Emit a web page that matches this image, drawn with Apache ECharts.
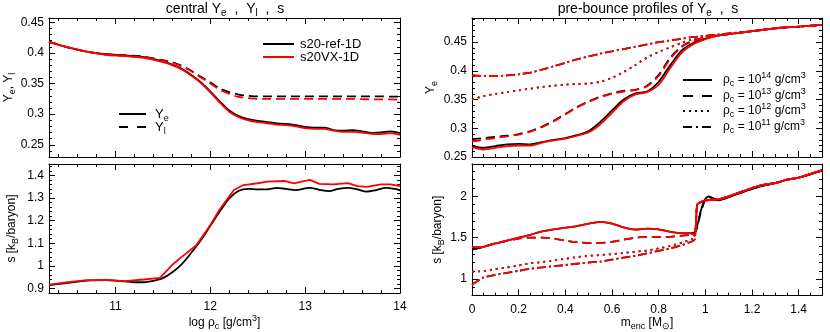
<!DOCTYPE html>
<html>
<head>
<meta charset="utf-8">
<script src="https://cdn.jsdelivr.net/npm/echarts@6/dist/echarts.min.js"></script>
<style>
html, body { margin: 0; padding: 0; background: #fff; }
#chart { width: 830px; height: 332px; }
</style>
</head>
<body>
<div id="chart"></div>
<script>
// ---- central values vs log rho_c (left panels) ----
var rhoYe = [10.3, 10.5, 10.7, 10.9, 11.1, 11.3, 11.5, 11.6, 11.7, 11.8, 11.9, 12.0, 12.1, 12.2, 12.3, 12.4,
  12.5, 12.6, 12.7, 12.8, 12.9, 13.0, 13.1, 13.2, 13.3, 13.4, 13.5, 13.6, 13.7, 13.8, 13.9, 14.0];
var yeRef = [0.418, 0.409, 0.402, 0.398, 0.396, 0.393, 0.386, 0.381, 0.374, 0.364, 0.352, 0.337, 0.321, 0.306, 0.297, 0.292,
  0.289, 0.287, 0.285, 0.284, 0.282, 0.279, 0.278, 0.278, 0.274, 0.273, 0.274, 0.272, 0.2695, 0.270, 0.272, 0.269];
var yeVX = [0.418, 0.409, 0.402, 0.397, 0.395, 0.392, 0.385, 0.380, 0.373, 0.363, 0.351, 0.336, 0.319, 0.304, 0.295, 0.290,
  0.287, 0.285, 0.283, 0.282, 0.280, 0.277, 0.276, 0.276, 0.273, 0.271, 0.271, 0.270, 0.268, 0.2675, 0.269, 0.266];
var ylRef = [0.418, 0.409, 0.402, 0.398, 0.396, 0.394, 0.388, 0.385, 0.379, 0.371, 0.361, 0.352, 0.342, 0.336, 0.332, 0.330,
  0.329, 0.329, 0.329, 0.329, 0.329, 0.329, 0.329, 0.329, 0.329, 0.329, 0.329, 0.329, 0.329, 0.329, 0.3285, 0.3285];
var ylVX = [0.418, 0.409, 0.402, 0.397, 0.395, 0.393, 0.387, 0.384, 0.378, 0.370, 0.360, 0.350, 0.340, 0.333, 0.328, 0.326,
  0.325, 0.325, 0.325, 0.325, 0.325, 0.325, 0.325, 0.325, 0.325, 0.325, 0.325, 0.3245, 0.324, 0.324, 0.324, 0.3235];

var rhoSRef = [10.3, 10.5, 10.7, 10.9, 11.1, 11.2, 11.3, 11.4, 11.5, 11.6, 11.7, 11.8, 11.9, 12.0, 12.1, 12.2, 12.3, 12.4,
  12.5, 12.6, 12.7, 12.8, 12.9, 13.0, 13.05, 13.15, 13.25, 13.35, 13.45, 13.55, 13.65, 13.75, 13.85, 13.95, 14.0];
var sRef = [0.915, 0.925, 0.935, 0.937, 0.932, 0.928, 0.928, 0.934, 0.946, 0.972, 1.008, 1.058, 1.113, 1.177, 1.24, 1.298, 1.332, 1.34,
  1.338, 1.338, 1.345, 1.34, 1.335, 1.342, 1.345, 1.336, 1.33, 1.34, 1.345, 1.338, 1.328, 1.335, 1.345, 1.34, 1.334];
var rhoSVX = [10.3, 10.5, 10.7, 10.9, 11.1, 11.3, 11.47, 11.6, 11.7, 11.85, 12.0, 12.1, 12.25, 12.35, 12.5, 12.6, 12.78,
  12.88, 13.05, 13.15, 13.3, 13.45, 13.55, 13.65, 13.8, 13.9, 14.0];
var sVX = [0.917, 0.928, 0.937, 0.937, 0.933, 0.94, 0.947, 1.005, 1.04, 1.09, 1.18, 1.25, 1.335, 1.357, 1.365, 1.372, 1.375,
  1.364, 1.38, 1.362, 1.36, 1.366, 1.352, 1.349, 1.36, 1.36, 1.352];

// ---- pre-bounce profiles vs m_enc (right panels) ----
var mYe = [0, 0.05, 0.1, 0.15, 0.2, 0.25, 0.3, 0.35, 0.4, 0.45, 0.5, 0.55, 0.6, 0.65, 0.7, 0.75, 0.8, 0.85, 0.9, 0.95, 1.0,
  1.05, 1.1, 1.2, 1.3, 1.4, 1.5];
var ye14Ref = [0.270, 0.266, 0.269, 0.272, 0.273, 0.272, 0.276, 0.280, 0.283, 0.288, 0.295, 0.311, 0.331, 0.350, 0.361, 0.364,
  0.381, 0.410, 0.436, 0.449, 0.456, 0.461, 0.464, 0.469, 0.474, 0.477, 0.480];
var ye14VX = [0.267, 0.263, 0.266, 0.269, 0.270, 0.270, 0.275, 0.279, 0.282, 0.287, 0.293, 0.307, 0.327, 0.347, 0.359, 0.363,
  0.376, 0.405, 0.432, 0.447, 0.455, 0.461, 0.464, 0.469, 0.474, 0.477, 0.480];
var ye13Ref = [0.281, 0.283, 0.285, 0.287, 0.290, 0.295, 0.303, 0.313, 0.325, 0.337, 0.347, 0.355, 0.361, 0.365, 0.367, 0.374,
  0.393, 0.423, 0.443, 0.453, 0.458, 0.462, 0.464, 0.469, 0.474, 0.477, 0.480];
var ye13VX = [0.277, 0.280, 0.283, 0.286, 0.289, 0.294, 0.302, 0.312, 0.324, 0.336, 0.346, 0.354, 0.360, 0.364, 0.367, 0.373,
  0.391, 0.421, 0.442, 0.452, 0.458, 0.462, 0.464, 0.469, 0.474, 0.477, 0.480];
var ye12 = [0.350, 0.356, 0.360, 0.363, 0.366, 0.369, 0.372, 0.374, 0.376, 0.377, 0.378, 0.381, 0.388, 0.398, 0.410, 0.423,
  0.433, 0.441, 0.449, 0.455, 0.459, 0.462, 0.464, 0.469, 0.474, 0.477, 0.480];
var ye11 = [0.392, 0.391, 0.391, 0.392, 0.394, 0.397, 0.402, 0.408, 0.414, 0.420, 0.425, 0.430, 0.434, 0.438, 0.442, 0.446,
  0.450, 0.453, 0.456, 0.459, 0.461, 0.463, 0.465, 0.469, 0.474, 0.477, 0.480];

var mS = [0, 0.05, 0.1, 0.15, 0.2, 0.25, 0.3, 0.35, 0.4, 0.45, 0.5, 0.55, 0.6, 0.65, 0.7, 0.75, 0.8, 0.85, 0.9, 0.94,
  0.955, 0.965, 0.98, 1.0, 1.015, 1.04, 1.06, 1.1, 1.15, 1.2, 1.25, 1.3, 1.35, 1.4, 1.45, 1.5];
var s14Ref = [1.355, 1.39, 1.43, 1.465, 1.50, 1.535, 1.575, 1.60, 1.62, 1.64, 1.67, 1.69, 1.67, 1.625, 1.598, 1.61, 1.60, 1.57,
  1.555, 1.555, 1.57, 1.64, 1.82, 1.97, 2.0, 1.97, 1.95, 1.99, 2.04, 2.09, 2.13, 2.16, 2.2, 2.225, 2.265, 2.31];
var s14VX = [1.385, 1.39, 1.43, 1.465, 1.50, 1.535, 1.575, 1.60, 1.62, 1.64, 1.67, 1.69, 1.67, 1.625, 1.598, 1.61, 1.60, 1.57,
  1.555, 1.55, 1.52, 1.90, 1.93, 1.95, 1.955, 1.96, 1.965, 2.0, 2.05, 2.10, 2.14, 2.16, 2.2, 2.225, 2.27, 2.315];
var s13Ref = [1.355, 1.39, 1.43, 1.46, 1.49, 1.50, 1.50, 1.49, 1.465, 1.445, 1.435, 1.435, 1.45, 1.475, 1.50, 1.51, 1.51, 1.51,
  1.525, 1.535, 1.55, 1.62, 1.80, 1.96, 1.99, 1.96, 1.95, 1.99, 2.04, 2.09, 2.13, 2.16, 2.2, 2.225, 2.265, 2.31];
var s13VX = [1.385, 1.39, 1.43, 1.46, 1.49, 1.50, 1.50, 1.49, 1.465, 1.445, 1.435, 1.435, 1.45, 1.475, 1.50, 1.51, 1.51, 1.51,
  1.525, 1.535, 1.52, 1.90, 1.93, 1.95, 1.955, 1.96, 1.965, 2.0, 2.05, 2.10, 2.14, 2.16, 2.2, 2.225, 2.27, 2.315];
var s12 = [1.09, 1.095, 1.12, 1.14, 1.165, 1.19, 1.205, 1.225, 1.245, 1.265, 1.28, 1.29, 1.30, 1.315, 1.33, 1.345, 1.37, 1.40,
  1.44, 1.48, 1.50, 1.90, 1.93, 1.95, 1.955, 1.96, 1.965, 2.0, 2.05, 2.10, 2.14, 2.16, 2.2, 2.225, 2.27, 2.315];
var s11 = [0.93, 1.02, 1.05, 1.075, 1.10, 1.125, 1.14, 1.155, 1.17, 1.185, 1.20, 1.21, 1.235, 1.26, 1.28, 1.31, 1.34, 1.37,
  1.41, 1.45, 1.48, 1.90, 1.93, 1.95, 1.955, 1.96, 1.965, 2.0, 2.05, 2.10, 2.14, 2.16, 2.2, 2.225, 2.27, 2.315];

// ---- tick labels ----
var rhoTicks = [11, 12, 13, 14];
var yeTicks = [0.25, 0.3, 0.35, 0.4, 0.45];
var sTicksL = [0.9, 1, 1.1, 1.2, 1.3, 1.4];
var mTicks = [0, 0.2, 0.4, 0.6, 0.8, 1, 1.2, 1.4];
var sTicksR = [1, 1.5, 2];

var FONT = '"Liberation Sans", Arial, Helvetica, sans-serif';
var BLACK = '#000000', RED = '#ff0000';
var DASH = [9, 5], DOT = [2, 4], DASHDOT = [9, 3, 2, 3];

function steps(a, b, d) {
  var out = [];
  for (var v = a; v <= b + 1e-9; v += d) out.push(Math.round(v * 1000) / 1000);
  return out;
}

function rich(fs) {
  var small = Math.round(fs * 0.72);
  return {
    n: { fontSize: fs, fontFamily: FONT, color: '#000', lineHeight: fs + 5 },
    s: { fontSize: small, fontFamily: FONT, color: '#000', lineHeight: small, verticalAlign: 'bottom' },
    p: { fontSize: small, fontFamily: FONT, color: '#000', lineHeight: small, verticalAlign: 'top' }
  };
}

var xAxes = [], yAxes = [];
// main axis (labels + major ticks), its mirror, and minor ticks on both sides
function addAxes(list, dim, grid, min, max, majors, minors, labels, name, gap) {
  var lo = dim === 'x' ? 'bottom' : 'left', hi = dim === 'x' ? 'top' : 'right';
  var idx = list.length;
  function ax(pos, ticks, len, showLine, withLabels) {
    var a = {
      type: 'value', gridIndex: grid, position: pos, min: min, max: max,
      splitLine: { show: false },
      axisLine: { show: showLine, onZero: false, lineStyle: { color: '#000', width: 1 } },
      axisTick: { show: true, inside: true, length: len, customValues: ticks, lineStyle: { color: '#000', width: 1 } },
      axisLabel: { show: false }
    };
    if (withLabels) {
      a.axisLabel = { show: labels, customValues: majors, color: '#000', fontFamily: FONT, fontSize: 12,
        margin: dim === 'x' ? 8 : 5 };
      if (name) {
        a.name = name;
        a.nameLocation = 'middle';
        a.nameGap = gap;
        a.nameTextStyle = { rich: rich(12) };
      }
    }
    return a;
  }
  list.push(ax(lo, majors, 6, true, true));
  list.push(ax(hi, majors, 6, true, false));
  list.push(ax(lo, minors, 3, false, false));
  list.push(ax(hi, minors, 3, false, false));
  return idx;
}

var gx0 = addAxes(xAxes, 'x', 0, 10.3, 14, rhoTicks, steps(10.4, 14, 0.2), false, null, 0);
var gy0 = addAxes(yAxes, 'y', 0, 0.23, 0.457, yeTicks, steps(0.23, 0.45, 0.01), true, '{n|Y}{s|e}{n|, Y}{s|l}', 32);
var gx1 = addAxes(xAxes, 'x', 1, 10.3, 14, rhoTicks, steps(10.4, 14, 0.2), true, '{n|log ρ}{s|c}{n| [g/cm}{p|3}{n|]}', 17);
var gy1 = addAxes(yAxes, 'y', 1, 0.88, 1.45, sTicksL, steps(0.9, 1.44, 0.02), true, '{n|s [k}{s|B}{n|/baryon]}', 29);
var gx2 = addAxes(xAxes, 'x', 2, 0, 1.5, mTicks, steps(0, 1.5, 0.05), false, null, 0);
var gy2 = addAxes(yAxes, 'y', 2, 0.25, 0.492, yeTicks, steps(0.25, 0.49, 0.01), true, '{n|Y}{s|e}', 33);
var gx3 = addAxes(xAxes, 'x', 3, 0, 1.5, mTicks, steps(0, 1.5, 0.05), true, '{n|m}{s|enc}{n| [M}{s|⊙}{n|]}', 17);
var gy3 = addAxes(yAxes, 'y', 3, 0.8, 2.39, sTicksR, steps(0.8, 2.3, 0.1), true, '{n|s [k}{s|B}{n|/baryon]}', 25);

function pairs(xs, ys) { return xs.map(function (x, i) { return [x, ys[i]]; }); }
function line(xi, yi, xs, ys, color, dash, smooth) {
  return {
    type: 'line', xAxisIndex: xi, yAxisIndex: yi, data: pairs(xs, ys),
    showSymbol: false, symbol: 'none', smooth: smooth === undefined ? 0.3 : smooth,
    silent: true, animation: false, z: color === RED ? 3 : 2,
    lineStyle: { color: color, width: 1.8, type: dash || 'solid' }
  };
}

var series = [
  line(gx0, gy0, rhoYe, ylRef, BLACK, DASH),
  line(gx0, gy0, rhoYe, yeRef, BLACK),
  line(gx0, gy0, rhoYe, ylVX, RED, DASH),
  line(gx0, gy0, rhoYe, yeVX, RED),
  line(gx1, gy1, rhoSRef, sRef, BLACK),
  line(gx1, gy1, rhoSVX, sVX, RED, null, false),
  line(gx2, gy2, mYe, ye11, BLACK, DASHDOT),
  line(gx2, gy2, mYe, ye12, BLACK, DOT),
  line(gx2, gy2, mYe, ye13Ref, BLACK, DASH),
  line(gx2, gy2, mYe, ye14Ref, BLACK),
  line(gx2, gy2, mYe, ye11, RED, DASHDOT),
  line(gx2, gy2, mYe, ye12, RED, DOT),
  line(gx2, gy2, mYe, ye13VX, RED, DASH),
  line(gx2, gy2, mYe, ye14VX, RED),
  line(gx3, gy3, mS, s11, BLACK, DASHDOT, 0.2),
  line(gx3, gy3, mS, s12, BLACK, DOT, 0.2),
  line(gx3, gy3, mS, s13Ref, BLACK, DASH, 0.2),
  line(gx3, gy3, mS, s14Ref, BLACK, null, 0.2),
  line(gx3, gy3, mS, s11, RED, DASHDOT, 0.2),
  line(gx3, gy3, mS, s12, RED, DOT, 0.2),
  line(gx3, gy3, mS, s13VX, RED, DASH, 0.2),
  line(gx3, gy3, mS, s14VX, RED, null, 0.2)
];

function legLine(x1, x2, y, color, dash) {
  return { type: 'line', shape: { x1: x1, y1: y, x2: x2, y2: y }, silent: true,
    style: { stroke: color, lineWidth: 2, lineDash: dash || null } };
}
function legText(x, y, txt, fs, align) {
  return { type: 'text', x: x, y: y, silent: true,
    style: { text: txt, rich: rich(fs), align: align || 'left', verticalAlign: 'middle' } };
}

var graphics = [
  legText(225, 9, '{n|central Y}{s|e}{n|  ,  Y}{s|l}{n|  ,  s}', 14, 'center'),
  legText(648, 9, '{n|pre-bounce profiles of Y}{s|e}{n|  ,  s}', 14, 'center'),
  legLine(263, 294, 44, BLACK), legText(300, 44, '{n|s20-ref-1D}', 13),
  legLine(263, 294, 57, RED), legText(300, 57, '{n|s20VX-1D}', 13),
  legLine(119, 146, 114, BLACK), legText(155, 114, '{n|Y}{s|e}', 13),
  legLine(119, 146, 127, BLACK, [9, 9]), legText(155, 127, '{n|Y}{s|l}', 13),
  legLine(683, 712, 80, BLACK), legText(723, 80, '{n|ρ}{s|c}{n| = 10}{p|14}{n| g/cm}{p|3}', 12),
  legLine(683, 712, 96, BLACK, [10, 9]), legText(723, 96, '{n|ρ}{s|c}{n| = 10}{p|13}{n| g/cm}{p|3}', 12),
  legLine(683, 712, 111, BLACK, [2, 4]), legText(723, 111, '{n|ρ}{s|c}{n| = 10}{p|12}{n| g/cm}{p|3}', 12),
  legLine(683, 712, 127, BLACK, [9, 4, 2, 4]), legText(723, 127, '{n|ρ}{s|c}{n| = 10}{p|11}{n| g/cm}{p|3}', 12)
];

var chart = echarts.init(document.getElementById('chart'), null, { renderer: 'canvas' });
chart.setOption({
  animation: false,
  backgroundColor: '#ffffff',
  grid: [
    { left: 49, top: 18, width: 351, height: 139, containLabel: false },
    { left: 49, top: 164, width: 351, height: 139, containLabel: false },
    { left: 472, top: 18, width: 350, height: 139, containLabel: false },
    { left: 472, top: 164, width: 350, height: 139, containLabel: false }
  ],
  xAxis: xAxes,
  yAxis: yAxes,
  series: series,
  graphic: graphics
});
</script>
</body>
</html>
